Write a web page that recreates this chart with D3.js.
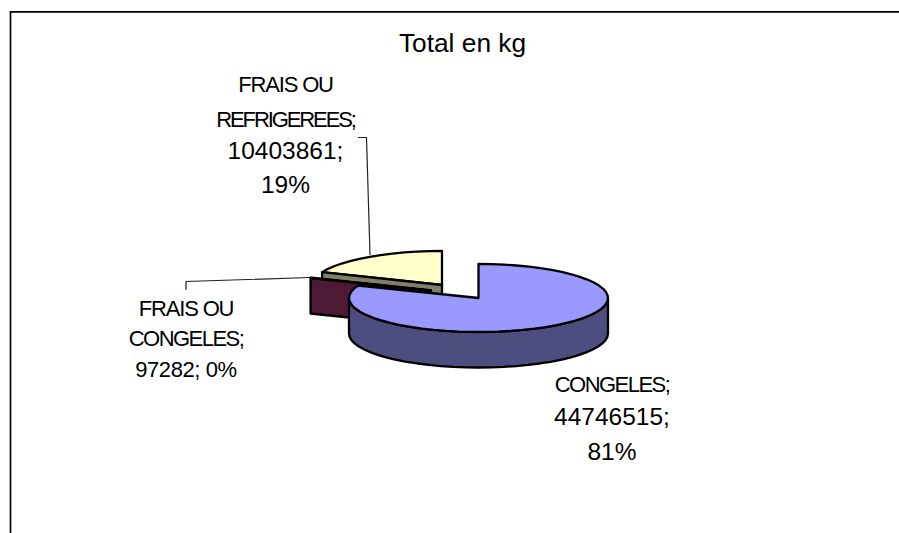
<!DOCTYPE html>
<html><head><meta charset="utf-8">
<script src="https://cdn.jsdelivr.net/npm/d3@7/dist/d3.min.js"></script>
<style>html,body{margin:0;padding:0;background:#fff}svg{display:block}text{font-family:"Liberation Sans",Arial,sans-serif;fill:#000}</style>
</head><body><svg id="c" width="899" height="533"></svg>
<script>
const categories = ["CONGELES", "FRAIS OU CONGELES", "FRAIS OU REFRIGEREES"];
const values = [44746515, 97282, 10403861];
const percents = ["81%", "0%", "19%"];
const topColors = ["#9999ff", "#993366", "#ffffcc"];
const sideColors = ["#4d4d80", "#4d1933", "#80806a"];
const chartTitle = "Total en kg";

const svg = d3.select("#c");
const rx = 129.5, ry = 34, depth = 35.5;
const centers = [[478.5, 298], [431, 290.5], [442, 285]];
const slices = d3.pie().sort(null).value(d => d)(values);
const px = (c, a, dy = 0) => [c[0] + rx * Math.sin(a), c[1] - ry * Math.cos(a) + dy];
const arcPts = (c, a0, a1, dy = 0) => {
  const n = Math.max(2, Math.ceil(Math.abs(a1 - a0) / 0.1));
  return d3.range(n + 1).map(i => px(c, a0 + (a1 - a0) * i / n, dy));
};
const line = d3.line();
function poly(pts, fill) {
  svg.append("path").attr("d", line(pts) + "Z").attr("fill", fill)
    .attr("stroke", "#000").attr("stroke-width", 2.3).attr("stroke-linejoin", "round");
}
// frame
svg.append("path").attr("d", "M10.5,533V11.8H899").attr("fill", "none").attr("stroke", "#000").attr("stroke-width", 1.7);

function face(i, a) {
  const c = centers[i], o = px(c, a);
  poly([c, o, [o[0], o[1] + depth], [c[0], c[1] + depth]], sideColors[i]);
}
// yellow slice
poly([centers[2], ...arcPts(centers[2], slices[2].startAngle, slices[2].endAngle)], topColors[2]);
face(2, slices[2].startAngle);
// tiny slice
face(1, slices[1].startAngle);
poly([centers[1], ...arcPts(centers[1], slices[1].startAngle, slices[1].endAngle)], topColors[1]);
// main slice: outer wall then top
const c0 = centers[0];
const front = arcPts(c0, Math.PI / 2, 1.5 * Math.PI);
poly([...front, ...front.slice().reverse().map(p => [p[0], p[1] + depth])], sideColors[0]);
poly([c0, ...arcPts(c0, slices[0].startAngle, slices[0].endAngle)], topColors[0]);

// leaders
const leader = d => svg.append("path").attr("d", line(d)).attr("fill", "none").attr("stroke", "#222").attr("stroke-width", 1.2);
leader([[358, 137.5], [366.5, 137.5], [370, 255]]);
leader([[186, 290], [186, 281.5], [310, 277.5]]);

// texts
svg.append("text").attr("x", 462.5).attr("y", 52).attr("text-anchor", "middle").attr("font-size", 26.3).text(chartTitle);
const labelLines = [
  {x: 285.5, rows: [["FRAIS OU", 92, 22, -1.15], ["REFRIGEREES;", 127, 22, -2.1], [values[2] + ";", 159, 24.5, 0], [percents[2], 193, 24.5, 0]]},
  {x: 186, rows: [["FRAIS OU", 316, 22, -1.15], ["CONGELES;", 346, 22, -1.55], [values[1] + "; " + percents[1], 377, 22, -.4]]},
  {x: 612, rows: [[categories[0] + ";", 392, 22, -1.55], [values[0] + ";", 425, 24.5, 0], [percents[0], 460, 24.5, 0]]}
];
labelLines.forEach(l => l.rows.forEach(([t, y, fs, ls]) => {
  svg.append("text").attr("x", l.x).attr("y", y).attr("text-anchor", "middle").attr("font-size", fs).attr("letter-spacing", ls).text(t);
}));
</script></body></html>
